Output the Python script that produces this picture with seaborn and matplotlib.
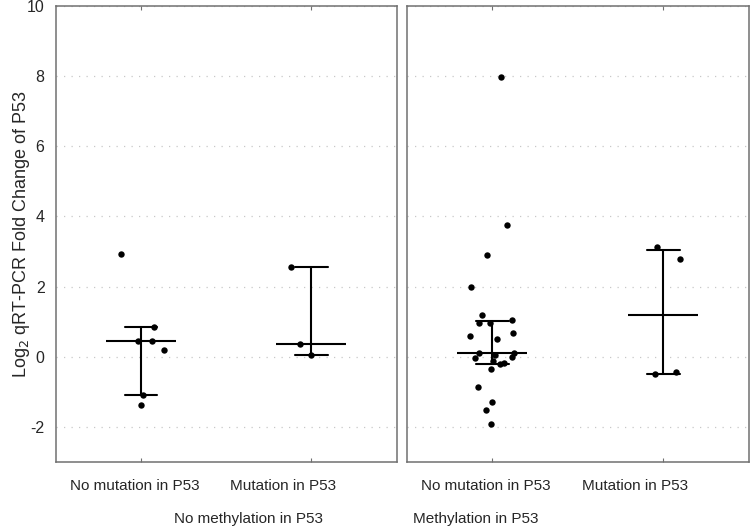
import numpy as np
import pandas as pd
import seaborn as sns
import matplotlib.pyplot as plt

# values (log2 fold change)
no_meth_no_mut = [2.93, 0.86, 0.46, 0.46, 0.19, -1.10, -1.38]
no_meth_mut = [2.57, 0.37, 0.05]
meth_no_mut = [7.98, 3.76, 2.90, 1.99, 1.19, 1.06, 0.95, 0.95, 0.67, 0.60, 0.50,
               0.12, 0.10, 0.05, -0.02, -0.05, -0.12, -0.17, -0.22, -0.34,
               -0.85, -1.30, -1.51, -1.93]
meth_mut = [3.14, 2.79, -0.43, -0.50]

categories = ['No mutation in P53', 'Mutation in P53']
groups = ['No methylation in P53', 'Methylation in P53']
yticks = [-2, 0, 2, 4, 6, 8, 10]

rows = []
for g, lists in zip(groups, [[no_meth_no_mut, no_meth_mut], [meth_no_mut, meth_mut]]):
    for c, vals in zip(categories, lists):
        for v in vals:
            rows.append({'group': g, 'mutation': c, 'fc': v})
df = pd.DataFrame(rows)


def iqr(x):
    # quartiles the (n+1)p way, like GraphPad
    return (np.percentile(x, 25, method='weibull'), np.percentile(x, 75, method='weibull'))


sns.set_style('white')
plt.rcParams['font.family'] = ['Liberation Sans', 'DejaVu Sans']
plt.rcParams['axes.unicode_minus'] = False

fig = plt.figure(figsize=(7.5, 5.29), dpi=100)
ax1 = fig.add_axes([0.0743, 0.1267, 0.4547, 0.862])
ax2 = fig.add_axes([0.5423, 0.1267, 0.4564, 0.862], sharey=ax1)

np.random.seed(7)
label_x = [-0.035, 0.835]
group_x = [0.633, -0.094]

for ax, g, gx in zip([ax1, ax2], groups, group_x):
    d = df[df['group'] == g]
    ax.yaxis.grid(True, linestyle=(0, (1, 5)), color='#c8c8c8', linewidth=0.9)
    ax.set_axisbelow(True)
    sns.stripplot(data=d, x='mutation', y='fc', order=categories, ax=ax,
                  color='black', size=4.6, jitter=0.14, zorder=3)
    sns.pointplot(data=d, x='mutation', y='fc', order=categories, ax=ax,
                  estimator='median', errorbar=iqr, capsize=0.19,
                  markers='_', linestyle='none', color='black',
                  markersize=50, markeredgewidth=1.5,
                  err_kws={'linewidth': 1.5}, zorder=4)
    ax.set_xlim(-0.5, 1.5)
    ax.set_ylim(-3, 10)
    ax.set_yticks(yticks)
    ax.set_xticks([0, 1])
    ax.set_xticklabels([])
    ax.set_xlabel('')
    ax.set_ylabel('')
    for s in ax.spines.values():
        s.set_visible(True)
        s.set_color('#707070')
        s.set_linewidth(1.1)
    ax.tick_params(axis='x', direction='in', length=3, color='#707070',
                   top=True, bottom=True)
    ax.tick_params(axis='y', direction='in', length=3, color='#707070',
                   labelsize=11.5, pad=8)
    for lx, c in zip(label_x, categories):
        ax.text(lx, -0.0526, c, transform=ax.get_xaxis_transform(),
                ha='center', va='center', fontsize=11)
    ax.text(gx, -0.125, g, transform=ax.get_xaxis_transform(),
            ha='center', va='center', fontsize=11)

ax2.tick_params(axis='y', labelleft=False)
ax1.set_ylabel('Log$_2$ qRT-PCR Fold Change of P53', fontsize=13)
ax1.yaxis.set_label_coords(-0.07, 0.5)

fig.savefig('out.png', dpi=100)
